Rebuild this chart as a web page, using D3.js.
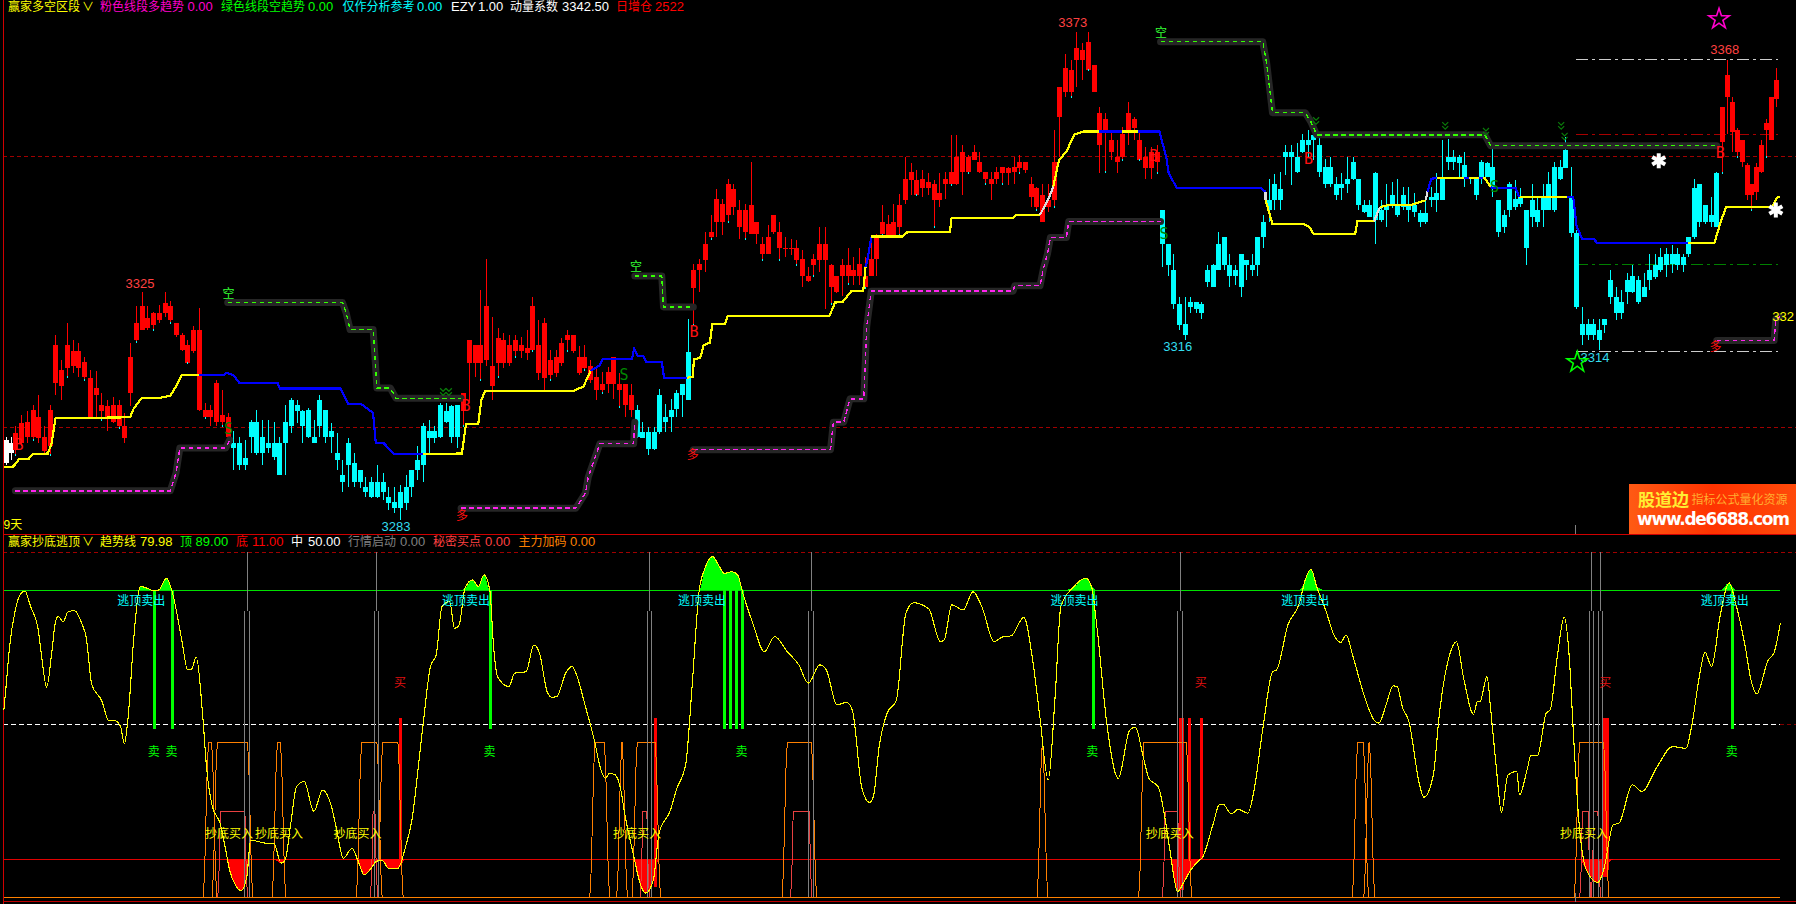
<!DOCTYPE html>
<html><head><meta charset="utf-8">
<script src="https://cdn.jsdelivr.net/npm/d3@7"></script>
<style>html,body{margin:0;padding:0;background:#000;overflow:hidden}svg{display:block}</style></head>
<body><svg id="c" width="1796" height="904"></svg>
<script>
// candles: [high, bodyTop, bodyBottom, low], in price units
const white0=[[3298.2,3297.6,3293.3,3293],[3298.2,3297,3295.2,3293.9]];
const red1=[[3300.1,3298.9,3295.8,3294.9],[3302.2,3300.7,3297,3296.4],[3302.9,3301,3298.2,3297],[3304.1,3303.2,3298.2,3297.6],[3305.9,3301.9,3297.9,3297],[3300.1,3298.2,3295.5,3295.2],[3304.1,3303.2,3296.4,3294.9],[3317,3315.2,3308.1,3305.9],[3312.4,3310.6,3307.5,3305],[3319.2,3315.2,3310.9,3309.3],[3316.1,3314,3311.2,3309.9],[3315.5,3314,3310.9,3309.3],[3313,3312.1,3309.3,3308.7],[3310.6,3309,3301.9,3301.9],[3310.3,3307.2,3305.9,3301.9],[3306.2,3304.1,3302.9,3301.3],[3305,3303.8,3301.9,3299.2],[3305.6,3304.1,3301,3300.7],[3305,3304.1,3300.1,3299.8],[3302.6,3300.1,3297.9,3297],[3315.5,3313,3306.2,3303.8],[3322.3,3319.2,3316.1,3315.8],[3325,3322.3,3318,3318],[3322.3,3320.1,3318.3,3318],[3321.3,3321,3318.9,3318],[3322.6,3321,3319.8,3319.2],[3325,3322.9,3321,3320.4],[3323.2,3322.3,3319.8,3319.2],[3319.2,3319.2,3317,3316.7],[3317.3,3317,3314.3,3314],[3316.1,3315.2,3311.8,3311.8],[3318.6,3318,3314,3313.6],[3322,3318,3303.2,3302.9],[3304.4,3303.2,3301.9,3301.6],[3304.1,3303.2,3301.9,3300.1],[3308.7,3308.1,3301,3300.1],[3306.9,3302.2,3301,3300.1],[3302.6,3301.9,3298.2,3297.6]];
const cyan1=[[3299.2,3297,3296.1,3292.1],[3298.2,3297,3293,3292.1],[3297.6,3294.2,3293,3292.1],[3301.3,3301,3298.2,3295.2],[3303.2,3301,3295.2,3294.9],[3301.3,3298.2,3295.2,3293],[3301.3,3297,3296.1,3295.2],[3301,3297,3294.5,3293.9],[3298.2,3297,3291.2,3291.2],[3304.1,3301,3297,3291.2],[3305.3,3305,3300.1,3298.9],[3305,3304.1,3302.9,3300.7],[3303.2,3302.9,3300.1,3297],[3303.5,3303.2,3298.2,3297.9],[3301.3,3298.2,3297,3297],[3305.9,3305,3300.1,3298.2],[3303.2,3303.2,3298.2,3297],[3300.7,3299.2,3298.2,3295.2],[3298.9,3295.2,3293.9,3292.1],[3293.9,3291.2,3289.9,3288],[3297.9,3297,3293,3289],[3295.2,3293.3,3289.9,3289],[3292.1,3292.1,3289.9,3288.7],[3290.8,3289,3288,3287.1],[3290.8,3289.9,3287.1,3286.8],[3293,3289.9,3287.1,3286.8],[3291.5,3289.9,3288,3286.5],[3289,3287.1,3285.9,3284.7],[3289,3286.2,3285,3284.1],[3289.3,3288,3285,3282.8],[3291.2,3289,3285.9,3284.7],[3292.1,3292.1,3289,3287.1],[3296.4,3293.9,3292.1,3290.2],[3300.7,3300.1,3293,3289.9],[3301.3,3299.2,3297.9,3295.2],[3300.1,3299.2,3297.9,3297],[3304.4,3304.1,3298.2,3297.9],[3304.4,3302.9,3301,3300.7],[3304.1,3303.8,3298.2,3297],[3304.1,3304.1,3298.2,3296.1]];
const red2=[[3306.2,3306.2,3302.9,3300.1],[3316.1,3316.1,3311.8,3304.4],[3315.2,3315.2,3311.8,3309.3],[3325.4,3315.2,3311.8,3308.7],[3331,3322.3,3312.4,3311.2],[3320.4,3311.2,3307.5,3305],[3318.3,3316.4,3311.8,3309.3],[3317.3,3316.1,3311.8,3310.9],[3317,3315.2,3311.8,3311.2],[3317,3316.1,3314,3313],[3316.7,3315.2,3314,3312.7],[3318,3314.6,3313.6,3312.4],[3324.1,3322.3,3314.3,3314],[3319.8,3315.2,3310,3308.7],[3320.1,3319.2,3309,3306.9],[3314.3,3312.4,3309.6,3308.7],[3314.3,3313,3310,3309.3],[3316.4,3315.5,3311.8,3311.2],[3318,3317,3316.1,3314],[3317,3317,3314,3313.6],[3314.9,3313,3310,3309.6],[3315.2,3313,3310.9,3310.6],[3312.4,3311.2,3308.7,3308.1],[3311.2,3309.3,3306.9,3305],[3310.2,3308,3306.8,3306.2],[3311.1,3310.2,3308,3306.2],[3313,3313,3308,3305.2],[3309.9,3308,3306.8,3303.7],[3308,3308,3304,3301.9],[3308,3305.9,3303.1,3301.9]];
const cyan2=[[3304,3303.1,3298.2,3297.9],[3300.9,3299.1,3297.9,3297.9],[3300,3299.1,3296,3294.8],[3300,3299.1,3296,3295.7],[3307.1,3305.9,3299.1,3298.8],[3304.3,3301.9,3300.9,3299.1],[3305.2,3303.1,3301.9,3299.1],[3306.8,3306.2,3303.4,3301.9],[3308,3308,3305.9,3301.9],[3320,3313.9,3304.9,3304.9]];
const red3=[[3330.2,3329,3325.6,3318.8],[3331.1,3330.2,3329,3325],[3336,3333.9,3330.8,3328.7],[3339.1,3336,3335.1,3334.8],[3344,3342.2,3337.9,3335.1],[3342.2,3341.3,3337.9,3335.4],[3345.9,3345,3339.1,3337.9],[3345,3344,3340.7,3339.1],[3341.9,3340.1,3337,3334.8],[3341.3,3340.1,3336,3334.8],[3349,3341,3335.7,3335.7],[3337.9,3337.9,3335.7,3333.9],[3335.1,3333.9,3332,3330.8],[3337.3,3335.1,3332,3332],[3339.1,3339.1,3336,3335.7],[3337.9,3336,3333,3330.8],[3335.1,3333.1,3332.9,3331.4],[3334.8,3333.1,3332.9,3331.7],[3334.5,3333,3330.8,3329.9],[3332.7,3331.1,3328,3325.9],[3329.6,3328,3327,3326.8],[3332,3331.1,3329.9,3328],[3337,3333.9,3330.8,3328.7],[3337,3333.9,3330.8,3321.9],[3330.2,3329.9,3325.9,3322.8],[3328,3328,3325,3324.7],[3331.1,3329.9,3328,3324.3],[3333,3329.9,3328,3326.5],[3331.4,3329,3328,3326.2],[3333,3330.2,3328,3326.2],[3331.4,3328,3325.9,3325.6],[3334.5,3331.1,3328,3328],[3335.7,3335.1,3331.1,3328],[3341,3337.9,3335.7,3335.4],[3339.1,3337.6,3335.4,3335.1],[3341.3,3337.9,3335.4,3335.1],[3343.1,3341,3337,3335.4],
[3349.9,3345.9,3341.9,3341.3],[3348.7,3347.2,3345.6,3342.9],[3347.5,3345.6,3342.9,3342.9],[3347.5,3345.9,3344.1,3342.5],[3346.9,3345.3,3344.1,3342.9],[3345.6,3345,3341.9,3337],[3346.9,3343.2,3341.9,3340.7],[3347.2,3345.9,3345,3342.2],[3353.9,3347.2,3345,3344.7],[3353.9,3349.9,3345,3344.7],[3352.1,3350.9,3347.2,3342.9],[3350.2,3349.9,3347.2,3346.9],[3352.1,3350.9,3349.3,3349.3],[3350.9,3349,3347.2,3346.9],[3347.2,3347.2,3345.9,3345],[3347.2,3345.9,3345,3341.9],[3348.1,3347.2,3345.9,3345],[3348.1,3348.1,3346.9,3345],[3348.1,3347.8,3346.9,3344.7],[3349.9,3348.1,3347.2,3345],[3350.2,3349,3347.8,3346.9],[3349,3349,3347.5,3346.9],[3346.2,3345,3342.5,3340.7],[3344.4,3344.1,3340.7,3340.1],[3345,3342.9,3337.9,3337.9],[3345,3341.9,3340.7,3339.8],[3354.9,3349,3341.9,3340.7],[3362.9,3362.9,3357.3,3349.9],[3369,3366.3,3362,3361],[3367.8,3366,3362,3361],[3373,3370,3367.8,3362.9],[3370.9,3369.7,3367.8,3364.1],[3373,3371.2,3366,3366],[3366.9,3366.9,3362,3362],[3359.2,3358,3352.1,3346.9],[3358,3357,3354.9,3347.2],[3354.9,3353,3350.9,3349.3],[3353,3349.9,3349,3346.9],[3355.5,3354.2,3349.9,3349.3],[3360.1,3358,3354.9,3352.1],[3357.3,3357,3355.2,3353],[3354.9,3353,3349.3,3349.3],[3351.8,3349.9,3347.8,3345.9],[3351.8,3350.9,3347.8,3345.9],[3352.1,3350.9,3349,3346.9]];
const cyan3=[[3340.1,3340.1,3333.9,3329.6],[3333.9,3333.9,3329.9,3328],[3332,3329,3322.8,3321.9],[3324,3322.8,3318.8,3317.9],[3324,3319.1,3317,3316],[3324,3323.1,3322.2,3321],[3323.1,3323.1,3321.9,3321],[3323.1,3322.8,3321,3320],[3329.9,3329,3326.8,3325.9],[3330.2,3329.9,3325.9,3325.9],[3336,3333.9,3329,3329],[3335.1,3335.1,3329.9,3329],[3332,3329.9,3328,3325.9],[3329.9,3329,3328,3326.2],[3332,3332,3325.9,3324],[3330.8,3330.8,3329.9,3327.1],[3332,3329.9,3329,3328],[3335.1,3335.1,3329.9,3328],[3339.1,3337.9,3335.1,3333],[3345.9,3341.9,3340.1,3337.9],[3346.8,3345,3341.9,3340.1],[3347.1,3344,3341.9,3340.1],[3352.1,3350.9,3349.9,3346.5],
[3352.1,3350.9,3349.9,3344.7],[3352.4,3349.9,3347.2,3346.9],[3354.2,3353,3350.9,3350.6],[3354.9,3353,3352.1,3349.9],[3354.9,3353.9,3353,3349.3],[3353.6,3352.1,3347.2,3346.2],[3349.6,3348.1,3345,3344.1],[3349.9,3348.1,3345,3344.4],[3346.2,3345,3342.9,3341.9],[3346.9,3345,3344.1,3341.9],[3349.9,3345.9,3345,3343.2],[3349.9,3349,3345.9,3345.6],[3345.9,3345.9,3341,3340.1],[3341.9,3341,3339.8,3339.5],[3341.9,3341,3338.8,3338.8],[3347.2,3346.9,3338.2,3333.9],[3341.9,3340.1,3338.2,3337.9],[3345,3341,3340.1,3337],[3345.3,3342.9,3341.3,3340.4],[3345.9,3341,3339.2,3338.8],[3344.4,3342.9,3340.7,3340.1],[3344.4,3341,3340.1,3337.9],[3343.2,3341,3339.8,3338.8],[3340.1,3339.5,3337.9,3337],[3341.9,3339.5,3337.9,3337.6],[3344.4,3342.5,3341.9,3340.7],[3346.9,3343.2,3341.9,3339.8],[3353,3346.2,3341.9,3341.9],[3353.3,3349.9,3349,3347.5],[3351.2,3349.9,3349,3347.5],[3350.2,3349.9,3348.7,3346.2],[3350.9,3348.4,3346.2,3344.4],[3346.2,3346.2,3345.9,3345],[3346.2,3345.9,3342.9,3341.9],[3349.3,3349,3345.9,3345],[3349,3348.7,3346.2,3346.2],[3351.8,3348.1,3344.1,3342.5],[3341.9,3341.9,3336.1,3335.2],[3340.1,3339.2,3337,3335.8],[3345.3,3345,3340.1,3338.8],[3345.6,3342.2,3340.7,3340.1],[3344.1,3342.5,3341.3,3340.7],[3340.1,3340.1,3333,3329.9],[3345,3341.9,3338.8,3337],[3342.5,3340.1,3337.9,3337],[3345,3342.5,3340.1,3337],[3347.2,3345,3340.1,3340.1],[3349,3348.1,3340.1,3339.8],[3349.3,3348.1,3345.9,3345.6],[3353.6,3351.2,3347.8,3347.8],[3348.1,3342.5,3335.8,3335.2],[3336.4,3335.8,3322.2,3321.9],[3322.2,3319.1,3317,3315.1],[3320,3319.1,3317,3316],[3320,3319.1,3317,3316],[3320,3317.9,3316,3314.2],[3320,3320,3318.8,3317.3],[3329,3327.1,3324,3322.8],[3325.9,3324,3321,3319.7],[3325.3,3323.1,3321,3320],[3328.4,3327.1,3325,3322.8],[3329.9,3328,3325,3324.7],[3328,3327.1,3323.1,3322.8],[3328.4,3325.9,3324,3324],[3332,3329,3327.1,3325.3],[3332,3329.9,3327.8,3327.4],[3333,3331.5,3329,3328.7],[3333,3332,3329.9,3327.8],[3333.6,3332,3330.2,3328.4],[3333,3332,3329.9,3329],[3332,3331.5,3329.9,3328.7],[3335.2,3335.2,3332,3331.5],[3345.9,3344.1,3335.2,3334.8],[3345,3345,3337.9,3337],[3341,3341,3337.9,3337.6],[3342.5,3339.2,3337.9,3337],[3347.2,3346.9,3337,3337]];
const red4=[[3359.2,3359.2,3352.7,3346.9],[3367.8,3365,3361,3354.2],[3361,3360.1,3354.6,3350.9],[3355.2,3354.9,3350.9,3349.9],[3353,3353,3349,3348.1],[3348.7,3348.4,3342.9,3341.9],[3345,3345,3342.9,3340.1],[3348.7,3348.1,3343.5,3341.9],[3353,3352.1,3347.2,3346.9],[3357,3356.1,3354.9,3349.9],[3361,3361,3353,3353],[3366.3,3364.1,3360.7,3359.2]];
const candleGroups=[[white0,"#ffffff"],[red1,"#ff0000"],[cyan1,"#00ffff"],[red2,"#ff0000"],[cyan2,"#00ffff"],[red3,"#ff0000"],[cyan3,"#00ffff"],[red4,"#ff0000"]];
const groupStartBars=[0,1.67,39.66,79.66,109.9,119.8,201.5,299,309.3];

// trend line pieces: [bar, price]
const trendYellow=[
[[-0.33,3292.6],[1.33,3292.7],[2.33,3294.1],[4,3294.1],[4.67,3295],[7.33,3295.1],[8,3297],[8.67,3301.6],[21.67,3301.8],[22.33,3303.5],[23.67,3305.3],[27,3305.4],[28.67,3305.8],[29.67,3307.5],[30.67,3309.6],[33.67,3309.6]],
[[72.67,3295],[79.47,3295.1],[80.2,3300.6],[82.33,3300.6],[82.87,3305],[83.53,3306.7],[99,3306.7],[100.67,3307.5],[101.9,3310.4]],
[[118.7,3309.1],[119.7,3309.3],[119.9,3312.5],[121,3312.8],[121.6,3315.1],[122.7,3315.6],[123.1,3319],[125.3,3319],[125.8,3320.5],[143.5,3320.5],[144.5,3323],[145.8,3323.1],[147.3,3325.1],[149.4,3325.1],[149.8,3329.6]],
[[150.8,3335.2],[156.2,3335.2],[157.2,3336.1],[164.5,3336.1],[164.8,3338.7],[175.5,3338.7],[176,3339.2],[180.2,3339.2]],
[[182.5,3344.4],[183.5,3349.3],[184.8,3350.9],[186.2,3354.1],[187.8,3354.6],[190.5,3354.6]],
[[194.5,3354.6],[197.2,3354.6]],
[[219.5,3341.9],[220.7,3337.5],[226.1,3337.5],[227.1,3337],[227.9,3335.6],[235.1,3335.6],[235.5,3338],[238.4,3338]],
[[239.4,3340.6],[240.7,3341],[244.7,3341],[247.4,3341.9]],
[[249.4,3346],[257.7,3346],[258.7,3344.4]],
[[263.7,3342.5],[272.1,3342.5]],
[[293.1,3334],[297.7,3334],[298.7,3337.6],[299.7,3340.6],[307.7,3340.6],[308.6,3342.4],[309.1,3342.5]]];
const trendBlue=[
[[33.67,3309.6],[38,3309.6],[38.47,3310],[39.67,3309.6],[40.67,3308.2],[47.33,3308.2],[47.8,3307.1],[58.33,3307.1],[59.67,3304.2],[62,3304.2],[64,3302.6],[64.47,3297.1],[65.87,3297],[67.67,3295],[72.67,3295]],
[[101.9,3310.4],[103.5,3311.4],[104,3312.6],[109.1,3312.6],[109.5,3314.5],[110.1,3313.1],[111.1,3313.1],[111.6,3312],[114.3,3312],[114.7,3309.1],[118.7,3309.1]],
[[149.8,3329.6],[150.1,3330.8],[150.8,3335]],
[[190.5,3354.6],[194.5,3354.6]],
[[197.2,3354.6],[201,3354.6],[202.2,3349.9],[202.6,3347],[204,3344.2],[218.7,3344.1],[219.5,3343.5]],
[[247.7,3343.5],[248.4,3345.9],[249.4,3346]],
[[254.1,3346],[254.9,3346]],[[256.7,3346],[257.4,3346]],
[[258.7,3344.4],[259.1,3344.1],[263.1,3344.1],[263.7,3342.5]],
[[272.1,3342.5],[273.1,3342.5],[273.7,3337],[274.7,3334.7],[276.7,3334.7],[277.3,3334],[293.1,3334]]];
const trendWhite=[[[180.2,3339.2],[181.8,3342.5],[182.5,3344.4]],[[219.5,3343.5],[219.5,3341.9]],[[238.4,3338],[239.4,3340.6]],[[247.4,3341.9],[247.7,3343.5]]];

// resistance (green) and support (pink) stair lines: [bar, price]
const greenStairs=[
[[38.67,3323],[58.67,3323],[59.33,3321],[60,3318],[64,3318],[64.33,3313],[64.67,3307.2],[67,3307.2],[68,3305.3],[79.33,3305.3]],
[[109.6,3327.9],[114.3,3327.9],[114.6,3322.2],[119.8,3322.2]],
[[201.2,3371.2],[219,3371.2],[219.7,3367.2],[220.7,3358.1],[226.4,3358.1],[227.4,3356.4],[228.4,3354],[257.7,3354],[258.7,3352],[298.1,3352]]];
const pinkStairs=[
[[1.67,3288.2],[28.67,3288.2],[29.67,3291.5],[30.33,3296.1],[38.33,3296.1],[39,3297.6]],
[[79.33,3285],[99.33,3285],[101,3287.8],[101.5,3290.8],[103.5,3296.9],[109.4,3296.9],[109.6,3300.9]],
[[119.8,3295.8],[143.7,3295.8],[144.2,3300.9],[146,3300.9],[147.1,3305.2],[149.5,3305.2],[150,3318.5],[150.8,3325.1],[175.5,3325.1],[175.8,3326.1],[180.2,3326.1],[180.8,3329.3],[181.5,3332],[182,3335],[184.8,3335],[185.2,3338],[201.2,3338]],
[[298.1,3316],[308.1,3316],[308.4,3320],[309.1,3320.4]]];

const priceGrid=[3350,3300];
const rangeLevels=[[3368,"#cccccc"],[3354,"#a80000"],[3330,"#008000"],[3314,"#cccccc"]];
const rangeBars=[273.6,308.8];
const extremes=[[23.4,3326.4,"3325","#ff4040"],[185.9,3374.5,"3373","#ff4040"],[68,3281.5,"3283","#33ddee"],[204.2,3314.6,"3316","#33ddee"],[299.5,3369.5,"3368","#ff4040"],[276.9,3312.6,"3314","#33ddee"]];
const kongMarks=[[38.8,3324.4],[109.8,3329.4],[201.3,3372.6]];
const duoMarks=[[79.5,3283.4],[119.7,3294.6],[297.9,3314.6]];
const bMarks=[[2.3,3296.5],[80.2,3303.7],[119.9,3317.5],[227,3349.5],[298.7,3350.6],[200,3349.9]];
const sMarks=[[38.8,3299.6],[107.7,3309.6],[201.8,3335.5],[259.4,3344.3]];
const chevrons=[[76.2,3306.6],[77.2,3306.6],[228.3,3356.7],[250.8,3355.8],[257.9,3354.7],[271,3355.8],[271.6,3353.8]];
const stars=[[298.5,3375.4,"#ff00cc"],[273.8,3312,"#00ff00"]];
const asterisks=[[288,3349.2],[308.4,3340.1]];

// oscillator: [bar, value]
const oscLine=[[-0.33,54.3],[0,60.1],[.67,72.7],[1.67,83.3],[2.33,87.2],[3.33,88.8],[4.33,84.3],[5.67,77.5],[6.33,68.8],[7.13,60.9],[8,70.7],[8.67,79.9],[9.13,81.4],[10,79.9],[10.87,82.8],[12,83.1],[13.33,79],[14,75.6],[15,61.6],[16.67,57.2],[18,51.2],[19,51.2],[20,49.5],[20.67,44.5],[21.33,52.4],[22.33,75.6],[23.2,89],[23.53,90.1],[24.67,89.6],[25.67,88.9],[26.67,89.1],[28,92.5],[29,88.6],[30.67,74.6],[31.67,66.1],[32.33,66.1],[33.2,69.6],[34.33,52.4],[35,37.4],[36,26.3],[37.33,21.5],[38.33,13.7],[39,7.9],[40,3.6],[41,1.9],[42,6],[42.67,16.6],[45.33,15.7],[46.67,15.7],[48,9.9],[48.67,10.8],[49.67,21.5],[50.67,32.1],[52,33.6],[53.67,24.9],[55.2,31.1],[56.67,26.8],[57.67,19.5],[58.8,11.3],[60.33,14.2],[61.33,10.8],[62.47,6.5],[63.67,8.4],[64.67,10.5],[65.67,10.6],[66.67,8.4],[68.33,8.4],[69.67,14.7],[70.67,21.5],[72.67,49.5],[74,66.9],[75,70.3],[76,84.3],[77.33,85.7],[78.2,78],[79,79],[80,89.6],[81.33,92],[82.33,90.1],[83.33,93.5],[84.33,89.1],[85,72.7],[85.67,64],[87.67,61.1],[88.67,65],[90.67,65.4],[92,73.2],[93,70.8],[94.33,59.6],[95.13,58],[96,58.2],[97.67,65.4],[98.67,66.9],[99.33,65],[101,55.3],[102.67,44.7],[103.53,37.9],
[104.5,34.5],[105.17,36],[106.17,35.5],[107.17,31.1],[107.83,24.4],[109.5,11.3],[110.5,4.1],[111.5,1.2],[112.83,5],[113.83,18.6],[115.83,25.3],[116.83,31.1],[118.5,38.9],[119.5,59.2],[120.83,89.1],[121.83,95.4],[123.17,98.8],[124.17,96.4],[125.17,93.9],[126.5,94.4],[127.5,93.5],[128.5,87.7],[130.17,79.4],[132.17,71.2],[133.97,75.6],[136.17,71.2],[138.17,67.4],[139.83,62.1],[141.83,67.4],[142.97,65.9],[144.83,55.8],[146.5,56.5],[147.5,54.3],[149.17,31.6],[150.5,27.5],[151.17,29.2],[152.17,43.7],[153.5,53.1],[155.17,57.2],[156.83,82.3],[158.17,85.4],[160.83,83.6],[162.83,74.1],[163.5,74.6],[164.83,84.8],[166.83,83.3],[168.5,88.6],[170.17,83.8],[172.17,74.1],[173.83,75.6],[175.17,75.8],[177.37,81.2],[178.83,69.8],[180.17,52.4],[181.63,34],[182.83,58.2],[183.83,84.3],[185.83,89.6],[188.17,92.5],[189.17,90.1],[190.17,77.5],[191.83,50.5],[193.83,34.5],[195.83,48.5],[196.83,49.3],[198.17,40.8],[199.17,34.5],[200.83,31.9],[201.83,24.4],[202.83,13.7],[204.17,1.7],[205.17,4.1],[206.5,8],[208,10.8],
[208.4,11.3],[210.4,21.5],[211.4,26.8],[212.07,27],[213.53,24.2],[214.73,25.5],[216.4,24.4],[217.4,30.2],[219.07,49.5],[220.73,65.4],[221.4,65.9],[223.4,79],[225.4,85.3],[226.4,92],[227.4,95.1],[228.4,90.1],[230.07,82.8],[231.4,76.1],[232.6,73.9],[233.53,76],[234.73,69.8],[236.73,58.2],[238.4,51.4],[239.27,50.5],[240.4,55.3],[241.73,61.3],[242.4,61.1],[243.4,54.8],[244.4,51.4],[246.4,32.1],[247.07,29],[248.73,35.5],[249.73,52.4],[251.73,71.2],[252.73,74.1],[254.07,63],[255.73,53.1],[256.4,56.7],[256.87,56.7],[258.07,64],[258.73,54.3],[259.73,37],[260.6,24.7],[261.73,35.5],[263.27,36.5],[263.73,29.7],[265.07,37],[265.73,41.1],[266.87,41.1],[268.4,53.4],[269.07,54.3],[270.4,70.8],[271.53,81.2],[272.4,69.8],[273.07,49.5],[274.07,22.4],[275.4,7.9],[277.4,4.3],[278.4,7.9],[280.07,21],[281.07,21.5],[283.4,32.6],[285.07,30.7],[287.73,37.9],[290.4,43.7],[292.73,43.2],[293.73,49.5],[295.07,64],[296.07,71],[297.2,66.9],[298.73,81.9],[300.27,91.2],[301.4,85.2],[303.07,72.7],[304.07,63],[305.07,59],[307.07,68.8],[308.07,70.8],[309.2,79.6]];
const levelTop=89, levelBottom=11, levelMid=50, levelGrid=100, levelBase=0;
const sellBars=[25.93,29.07,84.47,125.17,126.23,127.3,128.3,189.5,300.87];
const sellBarBottom=48.8;
const sellLabels=[25.8,28.9,84.3,128.2,189.3,300.7];
const buyBars=[[68.8,11],[113.17,3],[204.6,2],[205.1,2],[206.2,8],[208.3,11],[278.3,6],[278.7,6],[279.1,8]];
const buyBarTop=52;
const buyLabels=[68.7,208.2,278.7];
const escapeLabels=[23.6,80.2,121.3,186.2,226.4,299.5];
const bottomLabels=[38.9,47.6,61.3,110,202.8,275];
const orangePulses=[[35.33,35.87],[36.87,42.13],[47.33,47.87],[62,64.67],[65.67,68.33],[102.67,104.3],[107.35,107.4],[110.03,113.17],[136.17,140.37],[180.6,180.65],[198.3,205.7],[235.53,236.53],[237.53,237.6],[274.2,278.4]];
const orangeSteps=[45,37.4,22.4,7.5,0];
const coralPulses=[[37.4,41.67],[64,64.33],[111,111.7],[137.2,140],[202,204.2],[274.7,275.7],[276.7,277.4]];
const coralSteps=[24.8,8,0];
const grayPulses=[42.07,64.6,112.17,140.3,204.63,276.27,277.87];
const graySteps=[100,83];

// header texts
const headerTop=[["赢家多空区段","#ffff00",8],["∨","#ffff00",82],["粉色线段多趋势","#ff00cc",100],["0.00","#ff00cc",187.5],["绿色线段空趋势","#00ff00",221],["0.00","#00ff00",308],["仅作分析参考","#00ffff",342.4],["0.00","#00ffff",417],["EZY","#ffffff",451],["1.00","#ffffff",478],["动量系数","#ffffff",510],["3342.50","#ffffff",562],["日增仓","#ff0000",616],["2522","#ff0000",655]];
const headerLow=[["赢家抄底逃顶","#ffff00",8],["∨","#ffff00",82],["趋势线","#ffff00",100],["79.98","#ffff00",140],["顶","#00ff00",180],["89.00","#00ff00",195.6],["底","#ff0000",236],["11.00","#ff0000",252],["中","#ffffff",291],["50.00","#ffffff",308],["行情启动","#808080",348],["0.00","#808080",400],["秘密买点","#ff4040",433],["0.00","#ff4040",485],["主力加码","#ff8000",518.5],["0.00","#ff8000",570]];

const svg=d3.select("#c");
const FONT="'Liberation Sans','Noto Sans CJK SC',sans-serif";
const CJK="'Noto Sans CJK SC',sans-serif";
const barX=d3.scaleLinear().domain([0,309.3]).range([5.74,1781]);
const priceY=d3.scaleLinear().domain([3373,3283]).range([32,519]);
const oscY=d3.scaleLinear().domain([100,0]).range([552.4,897.3]);
const crisp=svg.append("g").attr("shape-rendering","crispEdges");
const W=1796;

// pane frame and grid
crisp.append("rect").attr("width",W).attr("height",904).attr("fill","#000");
crisp.selectAll(".pg").data(priceGrid).join("line").attr("x1",3).attr("x2",W).attr("y1",d=>priceY(d)).attr("y2",d=>priceY(d)).attr("stroke","#a00000").attr("stroke-dasharray","4 3");
crisp.append("line").attr("x1",3).attr("x2",W).attr("y1",oscY(levelGrid)).attr("y2",oscY(levelGrid)).attr("stroke","#a00000").attr("stroke-dasharray","4 3");
rangeLevels.forEach(([p,c])=>crisp.append("line").attr("x1",barX(rangeBars[0])).attr("x2",barX(rangeBars[1])).attr("y1",priceY(p)).attr("y2",priceY(p)).attr("stroke",c).attr("stroke-dasharray","12 4 3 4"));

// candles
const slotDomain=[0];candleGroups.forEach(g=>slotDomain.push(slotDomain[slotDomain.length-1]+g[0].length));
const slotToBar=d3.scaleLinear().domain(slotDomain).range(groupStartBars);
let slot=0;
const gC=crisp.append("g");
candleGroups.forEach(([rows,col])=>{
  rows.forEach((r,k)=>{
    const x=Math.round(barX(slotToBar(slot)));
    gC.append("line").attr("x1",x+.5).attr("x2",x+.5).attr("y1",priceY(r[0])).attr("y2",priceY(r[3])).attr("stroke",col);
    const top=priceY(r[1]),bot=priceY(r[2]);
    gC.append("rect").attr("x",x-2).attr("width",5).attr("y",top).attr("height",Math.max(1,bot-top)).attr("fill",col);
    if(col==="#ff0000"&&k%3===0) gC.append("rect").attr("x",x).attr("width",1).attr("y",priceY(r[3])-1).attr("height",2).attr("fill","#00ffff");
    slot++;
  });
});

const lineFn=d3.line().x(d=>barX(d[0])).y(d=>priceY(d[1]));
// stair bands
[[greenStairs,"#33ff00"],[pinkStairs,"#ff22ee"]].forEach(([set,col])=>{
  set.forEach(pts=>{
    svg.append("path").attr("d",lineFn(pts)).attr("fill","none").attr("stroke","#262626").attr("stroke-width",7).attr("stroke-linejoin","round").attr("stroke-linecap","round");
    svg.append("path").attr("d",lineFn(pts)).attr("fill","none").attr("stroke",col).attr("stroke-width",1.4).attr("stroke-dasharray","4.5 3.5").attr("shape-rendering","crispEdges");
  });
});
// trend pieces
[[trendYellow,"#ffff00"],[trendBlue,"#0000ff"],[trendWhite,"#dddddd"]].forEach(([set,col])=>{
  set.forEach(pts=>svg.append("path").attr("d",lineFn(pts)).attr("fill","none").attr("stroke",col).attr("stroke-width",2.2).attr("shape-rendering","crispEdges"));
});

// text marks on the price pane
function mark(rows,txt,col,size,family,weight){
  svg.selectAll(null).data(rows).join("text").attr("x",d=>barX(d[0])).attr("y",d=>priceY(d[1])).attr("text-anchor","middle").attr("dominant-baseline","middle").attr("fill",col).attr("font-size",size).attr("font-family",family).attr("font-weight",weight||400).text(txt);
}
mark(kongMarks,"空","#33ff33",12,CJK);
mark(duoMarks,"多","#ff1010",12,CJK);
mark(bMarks,"B","#ff1010",15,"'DejaVu Sans Mono',monospace");
mark(sMarks,"S","#008800",15,"'DejaVu Sans Mono',monospace");
svg.selectAll(null).data(extremes).join("text").attr("x",d=>barX(d[0])).attr("y",d=>priceY(d[1])).attr("text-anchor","middle").attr("dominant-baseline","middle").attr("fill",d=>d[3]).attr("font-size",13).attr("font-family",FONT).text(d=>d[2]);
chevrons.forEach(d=>{
  const cx=barX(d[0]),cy=priceY(d[1]);
  [-3,1].forEach(o=>svg.append("path").attr("d",d3.line()([[cx-3,cy+o],[cx,cy+o+3],[cx+3,cy+o]])).attr("fill","none").attr("stroke","#0a7a0a").attr("stroke-width",1.2));
});
stars.forEach(d=>svg.append("path").attr("transform",`translate(${barX(d[0])},${priceY(d[1])})`).attr("d",d3.symbol().type(d3.symbolStar).size(130)()).attr("fill","none").attr("stroke",d[2]).attr("stroke-width",1.6));
asterisks.forEach(d=>{
  const cx=barX(d[0]),cy=priceY(d[1]);
  [0,60,120].forEach(a=>svg.append("line").attr("transform",`translate(${cx},${cy}) rotate(${a+90})`).attr("x1",-7.5).attr("x2",7.5).attr("stroke","#fff").attr("stroke-width",4));
});
svg.append("text").attr("x",1794).attr("y",318).attr("text-anchor","end").attr("dominant-baseline","middle").attr("fill","#ffff00").attr("font-size",13).attr("font-family",FONT).text("332");
svg.append("text").attr("x",3.5).attr("y",526).attr("dominant-baseline","middle").attr("fill","#ffff00").attr("font-size",12).attr("font-family",FONT).text("9天");

// header rows
function header(rows,y){
  svg.selectAll(null).data(rows).join("text").attr("x",d=>d[2]).attr("y",y).attr("dominant-baseline","middle").attr("fill",d=>d[1]).attr("font-size",d=>/^[0-9.EZY]+$/.test(d[0])?13:12).attr("font-family",FONT).text(d=>d[0]);
}
header(headerTop,8);header(headerLow,542.7);

// lower pane
const oscX=d=>barX(d[0]);
const g2=svg.append("g");
const baseLevelLine=(v,c,w,dash,x2)=>crisp.append("line").attr("x1",3).attr("x2",x2||1780).attr("y1",oscY(v)).attr("y2",oscY(v)).attr("stroke",c).attr("stroke-width",w||1).attr("stroke-dasharray",dash||null);
// fills
g2.append("path").attr("d",d3.area().curve(d3.curveMonotoneX).x(oscX).y0(oscY(levelTop)).y1(d=>oscY(Math.max(d[1],levelTop)))(oscLine)).attr("fill","#00ff00").attr("shape-rendering","crispEdges");
g2.append("path").attr("d",d3.area().curve(d3.curveMonotoneX).x(oscX).y0(oscY(levelBottom)).y1(d=>oscY(Math.min(d[1],levelBottom)))(oscLine)).attr("fill","#ff0000").attr("shape-rendering","crispEdges");
baseLevelLine(levelTop,"#00e000");
baseLevelLine(levelBottom,"#e00000");
baseLevelLine(levelMid,"#ffffff",1.2,"5 3");
crisp.append("line").attr("x1",1780).attr("x2",W).attr("y1",oscY(levelMid)).attr("y2",oscY(levelMid)).attr("stroke","#800000").attr("stroke-dasharray","4 3");
// pulses
function pulse(start,end,steps,col){
  const pts=[];
  steps.forEach((lv,i)=>{ if(i>0)pts.unshift([barX(start)-(i-1)*1.3-1.3,lv],[barX(start)-(i-1)*1.3-0,steps[i-1]]);});
  const right=[];
  steps.forEach((lv,i)=>{ if(i>0)right.push([barX(end)+(i-1)*1.3,steps[i-1]],[barX(end)+(i-1)*1.3+1.3,lv]);});
  const all=[...pts,...right];
  g2.append("path").attr("d",d3.line().x(d=>d[0]).y(d=>oscY(d[1]))(all)).attr("fill","none").attr("stroke",col).attr("stroke-width",1).attr("shape-rendering","crispEdges");
}
orangePulses.forEach(p=>pulse(p[0],p[1],orangeSteps,"#ff8000"));
coralPulses.forEach(p=>pulse(p[0],p[1],coralSteps,"#e84040"));
// gray spikes
grayPulses.forEach(b=>{
  const x=barX(b);
  g2.append("path").attr("d",d3.line()([[x,oscY(graySteps[0])],[x,oscY(graySteps[1])]])).attr("stroke","#808080").attr("fill","none").attr("shape-rendering","crispEdges");
  [-2.3,2.3].forEach(o=>g2.append("line").attr("x1",x+o).attr("x2",x+o).attr("y1",oscY(graySteps[1])).attr("y2",oscY(levelBase)).attr("stroke","#808080").attr("shape-rendering","crispEdges"));
});
// sell and buy bars
crisp.selectAll(".s").data(sellBars).join("rect").attr("x",d=>barX(d)-1.5).attr("width",3).attr("y",oscY(levelTop)).attr("height",oscY(sellBarBottom)-oscY(levelTop)).attr("fill","#00ff00");
crisp.selectAll(".b").data(buyBars).join("rect").attr("x",d=>barX(d[0])-1.5).attr("width",3).attr("y",oscY(buyBarTop)).attr("height",d=>oscY(d[1])-oscY(buyBarTop)).attr("fill","#ff0000");
baseLevelLine(levelBase,"#ff8000");
// oscillator line
svg.append("path").attr("d",d3.line().curve(d3.curveMonotoneX).x(oscX).y(d=>oscY(d[1]))(oscLine)).attr("fill","none").attr("stroke","#ffff00").attr("stroke-width",1.1).attr("shape-rendering","crispEdges");
// labels
function oscLabels(bars,lv,t,col){
  svg.selectAll(null).data(bars).join("text").attr("x",d=>barX(d)).attr("y",oscY(lv)).attr("text-anchor","middle").attr("dominant-baseline","middle").attr("fill",col).attr("font-size",12).attr("font-family",CJK).text(t);
}
oscLabels(escapeLabels,85.7,"逃顶卖出","#00ffff");
oscLabels(bottomLabels,18,"抄底买入","#ffff00");
oscLabels(sellLabels,41.8,"卖","#00ff00");
oscLabels(buyLabels,61.8,"买","#e01010");

// frame
crisp.append("line").attr("x1",3.5).attr("x2",3.5).attr("y1",0).attr("y2",904).attr("stroke","#d00000");
crisp.append("line").attr("x1",3).attr("x2",W).attr("y1",534).attr("y2",534).attr("stroke","#d00000");
crisp.append("line").attr("x1",3).attr("x2",W).attr("y1",901).attr("y2",901).attr("stroke","#c00000");
crisp.append("line").attr("x1",1575).attr("x2",1575).attr("y1",525).attr("y2",534).attr("stroke","#808080");
crisp.append("line").attr("x1",1575).attr("x2",1575).attr("y1",893).attr("y2",902).attr("stroke","#808080");

// watermark
const defs=svg.append("defs");
const grad=defs.append("linearGradient").attr("id","wm").attr("x1",0).attr("x2",1).attr("y1",0).attr("y2",0);
grad.append("stop").attr("offset","0").attr("stop-color","#ff5a14");
grad.append("stop").attr("offset",".5").attr("stop-color","#ff3300");
grad.append("stop").attr("offset","1").attr("stop-color","#ff4a0a");
svg.append("rect").attr("x",1629).attr("y",484).attr("width",167).attr("height",50).attr("fill","url(#wm)");
svg.append("text").attr("x",1638).attr("y",501).attr("dominant-baseline","middle").attr("fill","#ffee33").attr("font-size",17).attr("font-weight",700).attr("font-family",CJK).text("股道边");
svg.append("text").attr("x",1691.5).attr("y",501).attr("dominant-baseline","middle").attr("fill","#ffae30").attr("font-size",12).attr("font-family",CJK).text("指标公式量化资源");
svg.append("text").attr("x",1637).attr("y",519.5).attr("dominant-baseline","middle").attr("fill","#ffffff").attr("font-size",17).attr("font-weight",700).attr("textLength",153).attr("font-family","'DejaVu Sans',sans-serif").text("www.de6688.com");
</script></body></html>
